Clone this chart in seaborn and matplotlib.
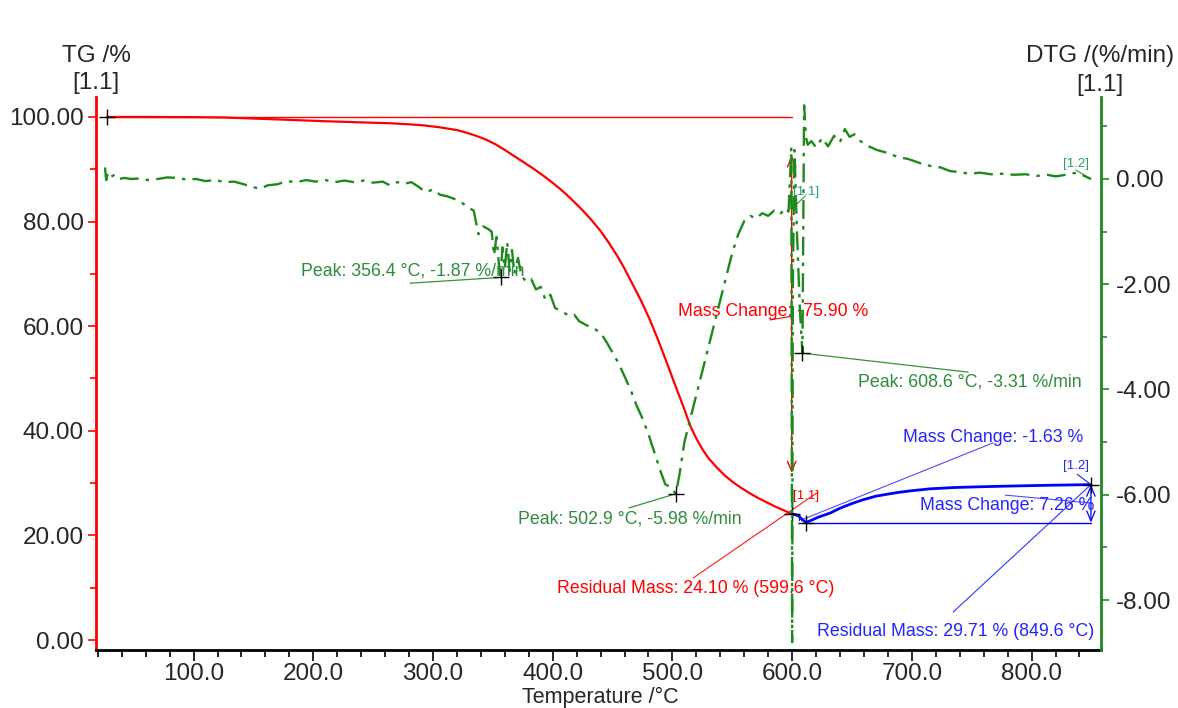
import matplotlib
matplotlib.use("Agg")
import matplotlib.pyplot as plt
import seaborn as sns
import numpy as np
import pandas as pd

# ---------------- data ----------------
tg1_temp = [27.7, 60, 100, 125, 150, 180, 208, 236, 264, 280, 292, 305, 320, 328, 336, 344,
            352, 360, 368, 376, 384, 392, 400, 408, 416, 424, 432, 440, 447, 454, 460, 467,
            474, 481, 488, 495, 502, 509, 515, 520, 525, 530, 537, 544, 551, 558, 565, 572,
            579, 586, 593, 599.6]
tg1_mass = [100.0, 100.0, 99.97, 99.9, 99.7, 99.45, 99.2, 99.0, 98.8, 98.6, 98.4, 98.05,
            97.5, 97.0, 96.4, 95.7, 94.8, 93.7, 92.5, 91.3, 90.1, 88.8, 87.4, 85.9, 84.2,
            82.4, 80.4, 78.2, 75.9, 73.4, 71.0, 67.9, 64.8, 61.3, 57.4, 53.2, 48.9, 44.7,
            40.9, 38.5, 36.5, 34.8, 33.0, 31.4, 30.1, 29.0, 28.0, 27.1, 26.3, 25.5, 24.8,
            24.1]

tg2_temp = [599.6, 603, 606, 609, 611.7, 616, 622, 632, 640, 650, 659, 670, 680, 688, 700,
            715, 735, 757, 785, 813, 835, 849.6]
tg2_mass = [24.1, 23.95, 23.6, 22.9, 22.45, 22.9, 23.5, 24.3, 25.2, 26.1, 26.8, 27.5, 27.9,
            28.2, 28.55, 28.9, 29.15, 29.3, 29.45, 29.58, 29.66, 29.71]

dtg_temp = [26, 27, 28.5, 31, 34, 38, 42, 48, 55, 62, 70, 78, 86, 94, 102, 110, 118, 126,
            134, 142, 150, 156, 162, 170, 178, 186, 194, 202, 210, 218, 226, 234, 242, 250,
            258, 264, 270, 276, 282, 288, 294, 300, 306, 312, 318, 324, 330, 334, 338, 342,
            346, 349, 351, 353, 355, 356.4, 358, 360, 362, 364, 366, 368, 371, 374, 378, 382,
            386, 390, 394, 398, 402, 406, 410, 414, 418, 422, 426, 430, 435, 440, 445, 450,
            455, 460, 465, 470, 475, 480, 485, 490, 494, 498, 502.9, 506, 510, 515, 520, 525,
            530, 535, 540, 545, 550, 555, 560, 565, 570, 575, 580, 585, 590, 594, 597, 599.3,
            600.0, 600.6, 602, 604, 606.5, 608.6, 610, 611.5, 613, 616, 620, 625, 630, 635,
            640, 644, 648, 652, 657, 664, 671, 679, 688, 697, 707, 715, 724, 732, 740, 748,
            757, 766, 775, 785, 795, 805, 813, 820, 826, 832, 838, 844, 849.6]
dtg_rate = [0.22, -0.02, 0.12, 0.04, 0.08, 0.0, 0.02, 0.0, 0.01, -0.02, 0.0, 0.03, 0.02,
            -0.01, 0.0, -0.04, -0.02, -0.06, -0.05, -0.10, -0.16, -0.18, -0.12, -0.10, -0.04,
            -0.06, -0.02, -0.05, -0.02, -0.06, -0.03, -0.06, -0.03, -0.07, -0.05, -0.12,
            -0.06, -0.09, -0.06, -0.15, -0.25, -0.20, -0.30, -0.33, -0.38, -0.45, -0.55,
            -0.60, -1.05, -0.90, -0.95, -1.00, -1.45, -1.10, -1.60, -1.87, -1.30, -1.70,
            -1.20, -1.75, -1.35, -1.80, -1.50, -1.85, -1.95, -1.90, -2.10, -2.05, -2.30,
            -2.20, -2.45, -2.50, -2.55, -2.60, -2.58, -2.70, -2.75, -2.80, -2.85, -2.92,
            -3.10, -3.30, -3.50, -3.75, -4.00, -4.30, -4.55, -4.85, -5.20, -5.55, -5.80,
            -5.85, -5.98, -5.60, -5.00, -4.55, -4.10, -3.65, -3.20, -2.75, -2.30, -1.85,
            -1.40, -1.05, -0.80, -0.70, -0.75, -0.65, -0.70, -0.60, -0.67, -0.55, -0.62,
            0.60, -8.80, -2.00, 0.55, -1.00, -2.50, -3.31, 1.40, 0.80, 0.65, 0.72, 0.60,
            0.78, 0.62, 0.82, 0.70, 0.95, 0.80, 0.85, 0.72, 0.62, 0.55, 0.50, 0.42, 0.38,
            0.30, 0.25, 0.22, 0.15, 0.13, 0.10, 0.12, 0.09, 0.10, 0.08, 0.09, 0.06, 0.08,
            0.05, 0.07, 0.10, 0.12, 0.06, 0.0]

x_ticks = [100, 200, 300, 400, 500, 600, 700, 800]
tg_ticks = [0, 20, 40, 60, 80, 100]
dtg_ticks = [-8, -6, -4, -2, 0]

# key results
tg_start = (27.7, 100.0)
tg_res1 = (599.6, 24.10)
tg_min = (611.7, 22.45)
tg_res2 = (849.6, 29.71)
peaks = [(356.4, -1.87), (502.9, -5.98), (608.6, -3.31)]

# ---------------- styling ----------------
sns.set_theme(style="white")
plt.rcParams["font.family"] = ["Liberation Sans", "DejaVu Sans"]
plt.rcParams["axes.unicode_minus"] = False

RED = "#ff0000"
GREEN = "#1e8a1e"
GTEXT = "#2e8b3e"
BLUE = "#0000ff"
BTEXT = "#2424ff"
FS = 17.5
AFS = 12.8

W, H = 1178, 708
fig = plt.figure(figsize=(W / 100, H / 100), dpi=100)
fig.patch.set_facecolor("white")
ax = fig.add_axes([96 / W, 1 - 650 / H, (1101 - 96) / W, (650 - 97) / H])
ax2 = ax.twinx()

df1 = pd.DataFrame({"T": tg1_temp, "TG": tg1_mass})
df2 = pd.DataFrame({"T": tg2_temp, "TG": tg2_mass})
dfd = pd.DataFrame({"T": dtg_temp, "DTG": dtg_rate})

sns.lineplot(data=dfd, x="T", y="DTG", ax=ax2, color=GREEN, lw=1.7, sort=False,
             estimator=None, legend=False, linestyle=(0, (8, 3, 1.5, 3)))
sns.lineplot(data=df1, x="T", y="TG", ax=ax, color=RED, lw=1.6, sort=False,
             estimator=None, legend=False)
sns.lineplot(data=df2, x="T", y="TG", ax=ax, color=BLUE, lw=2.0, sort=False,
             estimator=None, legend=False)

ax.set_xlim(18.5, 858)
ax.set_ylim(-1.91, 103.82)
ax2.set_ylim(-8.95, 1.558)

# ticks
ax.set_xticks(x_ticks)
ax.set_xticklabels([f"{v:.1f}" for v in x_ticks])
ax.set_xticks(np.arange(20, 860, 20), minor=True)
ax.set_yticks(tg_ticks)
ax.set_yticklabels([f"{v:.2f}" for v in tg_ticks])
ax.set_yticks(np.arange(10, 100, 20), minor=True)
ax2.set_yticks(dtg_ticks)
ax2.set_yticklabels([f"{v:.2f}" for v in dtg_ticks])
ax2.set_yticks([-7, -5, -3, -1, 1], minor=True)

ax.tick_params(axis="x", which="major", direction="out", length=8, width=1.2,
               color="black", labelsize=FS, pad=1, bottom=True)
ax.tick_params(axis="x", which="minor", direction="out", length=5, width=1.2,
               color="black", bottom=True)
ax.tick_params(axis="y", which="major", direction="out", length=6, width=1.2,
               color=RED, labelsize=FS, pad=3, left=True)
ax.tick_params(axis="y", which="minor", direction="out", length=4, width=1.2,
               color=RED, left=True)
ax2.tick_params(axis="y", which="major", direction="out", length=6, width=1.2,
                color=GREEN, labelsize=FS, pad=5, right=True)
ax2.tick_params(axis="y", which="minor", direction="out", length=4, width=1.2,
                color=GREEN, right=True)

for s in ["top", "right"]:
    ax.spines[s].set_visible(False)
ax.spines["left"].set_color(RED)
ax.spines["left"].set_linewidth(2)
ax.spines["bottom"].set_color("black")
ax.spines["bottom"].set_linewidth(2)
for s in ["top", "left", "bottom"]:
    ax2.spines[s].set_visible(False)
ax2.spines["right"].set_color(GREEN)
ax2.spines["right"].set_linewidth(2)
ax.set_xlabel("")
ax.set_ylabel("")
ax2.set_ylabel("")
ax.grid(False)
ax2.grid(False)

# axis titles
fig.text(96 / W, 1 - 56 / H, "TG /%", ha="center", va="center", fontsize=FS)
fig.text(96 / W, 1 - 83 / H, "[1.1]", ha="center", va="center", fontsize=FS)
fig.text(1100 / W, 1 - 56 / H, "DTG /(%/min)", ha="center", va="center", fontsize=FS)
fig.text(1100 / W, 1 - 85 / H, "[1.1]", ha="center", va="center", fontsize=FS)
fig.text(600 / W, 1 - 697 / H, "Temperature /\u00b0C", ha="center", va="center",
         fontsize=15.5)

# ---------------- evaluation overlays ----------------
def leader(a, p0, p1, color, lw=0.9, alpha=0.9):
    a.annotate("", xy=p1, xytext=p0,
               arrowprops=dict(arrowstyle="-", color=color, lw=lw, alpha=alpha,
                               shrinkA=0, shrinkB=0))

def darrow(a, p0, p1, color, lw=1.0):
    a.annotate("", xy=p1, xytext=p0,
               arrowprops=dict(arrowstyle="<->,head_length=0.6,head_width=0.25",
                               color=color, lw=lw, shrinkA=0, shrinkB=0))

# TG reference level and mass change arrow
ax.plot([tg_start[0], tg_res1[0]], [tg_start[1], tg_start[1]], color=RED, lw=1.0)
darrow(ax, (tg_res1[0], 92.7), (tg_res1[0], 31.9), RED)
leader(ax, (581.6, 61.2), (tg_res1[0], 61.9), RED)
ax.text(504.8, 62.9, "Mass Change: -75.90 %", color=RED, fontsize=AFS, va="center")
leader(ax, (517.3, 11.85), (621.7, 28.3), RED, lw=0.8)
ax.text(403.7, 9.94, "Residual Mass: 24.10 % (599.6 \u00b0C)", color=RED, fontsize=AFS,
        va="center")
ax.text(600.8, 27.6, "[1.1]", color=RED, fontsize=9.5, va="center")

# second segment
ax.plot([tg_min[0], tg_res2[0]], [tg_min[1], tg_min[1]], color=BLUE, lw=1.0)
ax.plot([tg_res1[0], 606.0, 606.0], [tg_res1[1], tg_res1[1], 23.0], color=BLUE, lw=0.9)
darrow(ax, (tg_res2[0], tg_res2[1]), (tg_res2[0], tg_min[1]), BLUE, lw=0.9)
leader(ax, (767.9, 37.7), (tg_min[0] - 4, tg_min[1] + 0.5), BLUE, lw=0.8, alpha=0.7)
ax.text(692.7, 38.8, "Mass Change: -1.63 %", color=BTEXT, fontsize=AFS, va="center")
leader(ax, (778.0, 27.7), (tg_res2[0], 26.2), BLUE, lw=0.8, alpha=0.7)
ax.text(706.9, 25.8, "Mass Change: 7.26 %", color=BTEXT, fontsize=AFS, va="center")
leader(ax, (734.5, 5.35), tg_res2, BLUE, lw=0.8, alpha=0.8)
ax.text(620.9, 1.72, "Residual Mass: 29.71 % (849.6 \u00b0C)", color=BTEXT, fontsize=AFS,
        va="center")
leader(ax, (838.1, 31.7), tg_res2, BLUE, lw=0.8)
ax.text(826.4, 33.2, "[1.2]", color=BTEXT, fontsize=9.5, va="center")

# DTG peaks
leader(ax2, (280.9, -1.98), peaks[0], GREEN, lw=0.9)
ax2.text(189.8, -1.75, "Peak: 356.4 \u00b0C, -1.87 %/min", color=GTEXT, fontsize=AFS,
         va="center")
leader(ax2, (463.8, -6.25), peaks[1], GREEN, lw=0.9)
ax2.text(371.1, -6.46, "Peak: 502.9 \u00b0C, -5.98 %/min", color=GTEXT, fontsize=AFS,
         va="center")
leader(ax2, (747.0, -3.67), peaks[2], GREEN, lw=0.9)
ax2.text(655.1, -3.86, "Peak: 608.6 \u00b0C, -3.31 %/min", color=GTEXT, fontsize=AFS,
         va="center")
ax2.text(600.8, -0.25, "[1.1]", color="#2f9a8a", fontsize=9.5, va="center")
leader(ax2, (600.5, -0.55), (611.0, -0.32), GREEN, lw=0.8)
ax2.text(826.4, 0.285, "[1.2]", color="#2f9a6a", fontsize=9.5, va="center")
leader(ax2, (837.0, 0.17), (849.6, 0.0), GREEN, lw=0.8)

# black cross markers
mk = dict(marker="+", color="black", ms=12, mew=1.0, ls="none", zorder=10)
ax.plot(*tg_start, **mk)
ax.plot(*tg_res1, **mk)
ax.plot(*tg_min, **mk)
ax.plot(*tg_res2, **mk)
for p in peaks:
    ax2.plot(*p, **mk)

fig.savefig("out.png", dpi=100, facecolor="white")
